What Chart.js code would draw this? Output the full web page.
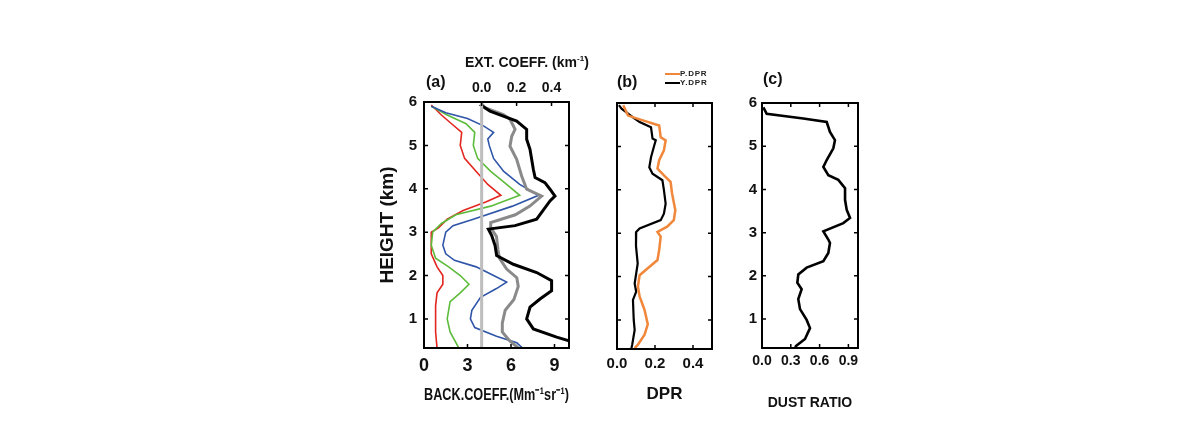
<!DOCTYPE html>
<html><head><meta charset="utf-8">
<script src="https://cdn.jsdelivr.net/npm/chart.js@4.4.1/dist/chart.umd.min.js"></script>
<style>
html,body{margin:0;padding:0;background:#fff;width:1190px;height:433px;overflow:hidden;position:relative;font-family:'Liberation Sans',Arial,sans-serif;}
canvas{position:absolute;}
.t{position:absolute;font-weight:bold;color:#111;white-space:nowrap;line-height:1;}
.lg{position:absolute;font-weight:bold;color:#222;white-space:nowrap;line-height:1;font-size:8px;letter-spacing:0.8px;}
.lg span{display:inline-block;width:15px;height:2px;vertical-align:middle;margin-right:0;}
</style></head><body>
<canvas id="ca" width="230" height="380" style="left:360px;top:40px"></canvas>
<canvas id="cb" width="140" height="380" style="left:590px;top:40px"></canvas>
<canvas id="cc" width="150" height="380" style="left:720px;top:40px"></canvas>
<div class="t" style="left:426px;top:74px;font-size:16px">(a)</div>
<div class="t" style="left:465px;top:55px;font-size:14px">EXT. COEFF. (km<sup style="font-size:8px">-1</sup>)</div>
<div class="t" style="left:617px;top:74px;font-size:16px">(b)</div>
<div class="t" style="left:763px;top:71px;font-size:16px">(c)</div>
<div class="lg" style="left:665px;top:70px"><span style="background:#f0873a"></span>P.DPR</div>
<div class="lg" style="left:665px;top:79px"><span style="background:#000"></span>Y.DPR</div>
<script>
// ---------- DATA ----------
const heightTicks = [1, 2, 3, 4, 5, 6];
const backTicks = [0, 3, 6, 9];
const extTicks = [0.0, 0.2, 0.4];
const dprTicks = [0.0, 0.2, 0.4];
const dustTicks = [0.0, 0.3, 0.6, 0.9];

// panel (a): backscatter profiles (Mm-1 sr-1) vs height (km)
const redH = [5.93, 5.7, 5.47, 5.3, 5.0, 4.7, 4.4, 4.1, 3.85, 3.7, 3.5, 3.3, 3.1, 3.0, 2.5, 2.2, 2.0, 1.8, 1.6, 1.3, 1.0, 0.7, 0.33];
const redV = [0.5, 1.2, 2.0, 2.6, 2.5, 2.8, 3.6, 4.4, 5.3, 4.3, 2.7, 1.6, 1.0, 0.5, 0.5, 0.9, 1.3, 1.3, 0.9, 0.8, 0.8, 0.8, 0.9];
const greenH = [5.9, 5.7, 5.5, 5.3, 5.0, 4.7, 4.4, 4.1, 3.85, 3.6, 3.4, 3.2, 3.0, 2.7, 2.4, 2.2, 2.0, 1.8, 1.6, 1.4, 1.0, 0.7, 0.33];
const greenV = [0.5, 1.6, 2.9, 3.5, 3.4, 3.7, 4.6, 5.7, 6.6, 4.6, 2.2, 1.2, 0.6, 0.5, 0.8, 1.7, 2.5, 3.1, 2.5, 1.8, 1.6, 1.8, 2.4];
const blueH = [5.9, 5.75, 5.62, 5.45, 5.3, 5.15, 5.0, 4.7, 4.4, 4.1, 3.85, 3.6, 3.3, 3.15, 3.0, 2.7, 2.5, 2.35, 2.2, 2.0, 1.85, 1.7, 1.5, 1.2, 1.0, 0.8, 0.6, 0.45, 0.33];
const blueV = [0.5, 1.5, 3.0, 4.1, 4.8, 4.4, 4.5, 4.8, 5.5, 6.6, 7.9, 6.1, 3.4, 2.0, 1.5, 1.3, 1.5, 2.1, 3.6, 4.8, 5.7, 5.0, 3.9, 3.3, 3.2, 3.5, 5.0, 6.4, 6.8];
const grayH = [5.95, 5.87, 5.71, 5.6, 5.37, 5.21, 4.98, 4.68, 4.29, 3.99, 3.83, 3.6, 3.4, 3.22, 3.1, 2.9, 2.6, 2.4, 2.15, 1.95, 1.75, 1.45, 1.2, 0.9, 0.7, 0.5, 0.33];
const grayV = [4.0, 4.2, 5.47, 5.93, 6.28, 6.05, 5.93, 6.39, 6.74, 7.08, 8.11, 7.3, 6.3, 4.6, 4.6, 5.0, 5.1, 5.2, 5.7, 6.4, 6.5, 6.2, 5.6, 5.4, 5.4, 5.9, 6.5];
const blackH = [5.94, 5.79, 5.56, 5.37, 5.14, 4.91, 4.45, 4.26, 4.14, 3.99, 3.83, 3.72, 3.3, 3.15, 3.07, 2.92, 2.69, 2.46, 2.26, 2.07, 1.88, 1.65, 1.46, 1.27, 1.0, 0.77, 0.58, 0.5, 0.4];
const blackV = [3.86, 4.55, 6.39, 7.08, 7.08, 7.31, 7.54, 7.66, 8.34, 8.69, 9.03, 8.69, 7.77, 6.28, 4.44, 4.67, 4.9, 5.01, 6.16, 7.77, 8.8, 8.8, 8.0, 7.31, 7.08, 7.54, 9.15, 9.95, 10.5];
const extZeroH = [0.33, 6.0];
const extZeroV = [0.0, 0.0];

// panel (b): depolarization ratio
const pdprH = [5.95, 5.71, 5.6, 5.48, 5.21, 5.14, 4.91, 4.68, 4.49, 4.33, 4.18, 3.91, 3.53, 3.3, 3.15, 3.03, 2.92, 2.61, 2.38, 2.19, 2.03, 1.77, 1.54, 1.23, 0.9, 0.66, 0.43, 0.35];
const pdprV = [0.033, 0.058, 0.136, 0.222, 0.23, 0.256, 0.247, 0.222, 0.213, 0.247, 0.282, 0.29, 0.307, 0.299, 0.264, 0.213, 0.23, 0.222, 0.213, 0.162, 0.119, 0.11, 0.119, 0.145, 0.162, 0.145, 0.11, 0.093];
const ydprH = [5.95, 5.87, 5.67, 5.56, 5.44, 5.18, 5.14, 5.02, 4.75, 4.52, 4.37, 4.22, 3.99, 3.68, 3.45, 3.3, 3.11, 3.03, 2.7, 2.3, 1.84, 1.65, 1.46, 1.0, 0.77, 0.43, 0.35];
const ydprV = [0.01, 0.024, 0.084, 0.119, 0.179, 0.187, 0.204, 0.196, 0.179, 0.17, 0.187, 0.239, 0.247, 0.256, 0.247, 0.23, 0.119, 0.101, 0.1, 0.109, 0.093, 0.101, 0.084, 0.088, 0.093, 0.08, 0.076];

// panel (c): dust ratio
const dustH = [5.9, 5.75, 5.64, 5.56, 5.33, 5.14, 4.95, 4.68, 4.52, 4.33, 4.22, 4.03, 3.76, 3.53, 3.34, 3.22, 3.03, 2.84, 2.76, 2.53, 2.34, 2.19, 2.03, 1.84, 1.69, 1.46, 1.23, 0.98, 0.79, 0.54, 0.39, 0.35];
const dustV = [0.014, 0.049, 0.43, 0.674, 0.708, 0.76, 0.743, 0.674, 0.639, 0.691, 0.795, 0.865, 0.865, 0.882, 0.917, 0.847, 0.639, 0.691, 0.708, 0.691, 0.639, 0.465, 0.378, 0.368, 0.413, 0.378, 0.396, 0.465, 0.5, 0.448, 0.361, 0.344];

// ---------- HELPERS ----------
const pts = (v, h) => v.map((x, i) => ({x: x, y: h[i]}));
const FONT = "'Liberation Sans Narrow','Liberation Sans',Arial,sans-serif";
const tickFont = (s) => ({family: FONT, size: s, weight: 'bold'});
const setTicks = (arr) => (s) => { s.ticks = arr.map(v => ({value: v})); };
const line = (data, color, width, axis) => ({
  data, borderColor: color, backgroundColor: color, borderWidth: width,
  showLine: true, pointRadius: 0, tension: 0, xAxisID: axis || 'x'
});

const framePlugin = {
  id: 'frame',
  afterDatasetsDraw(chart) {
    const {ctx, chartArea: a, scales} = chart;
    ctx.save();
    ctx.strokeStyle = '#000';
    ctx.lineWidth = 2;
    ctx.strokeRect(a.left, a.top, a.right - a.left, a.bottom - a.top);
    ctx.lineWidth = 1.5;
    const L = 4;
    ctx.beginPath();
    scales.x.ticks.forEach(t => {
      const p = scales.x.getPixelForValue(t.value);
      ctx.moveTo(p, a.bottom); ctx.lineTo(p, a.bottom - L);
      if (!scales.x2) { ctx.moveTo(p, a.top); ctx.lineTo(p, a.top + L); }
    });
    if (scales.x2) scales.x2.ticks.forEach(t => {
      const p = scales.x2.getPixelForValue(t.value);
      ctx.moveTo(p, a.top); ctx.lineTo(p, a.top + L);
    });
    scales.y.ticks.forEach(t => {
      const p = scales.y.getPixelForValue(t.value);
      ctx.moveTo(a.left, p); ctx.lineTo(a.left + L, p);
      ctx.moveTo(a.right, p); ctx.lineTo(a.right - L, p);
    });
    ctx.stroke();
    ctx.restore();
  }
};

const baseOpts = {
  responsive: false, animation: false, devicePixelRatio: 1,
  plugins: {legend: {display: false}, tooltip: {enabled: false}},
};

const yAxis = (width, showLabels, pad, title) => ({
  type: 'linear', position: 'left', min: 0.33, max: 6,
  afterBuildTicks: setTicks(heightTicks),
  afterFit: s => { s.width = width; },
  grid: {display: false, drawTicks: false}, border: {display: false},
  ticks: {display: showLabels, padding: pad, color: '#111', font: tickFont(15), callback: v => String(v)},
  title: title ? {display: true, text: title, color: '#111', font: {family: FONT, size: 19, weight: 'bold'}, padding: {top: 16, bottom: 0}} : {display: false}
});

const xAxis = (min, max, ticks, height, fsize, pad, title, tpad, tsize, fmt) => ({
  type: 'linear', position: 'bottom', min, max,
  afterBuildTicks: setTicks(ticks),
  afterFit: s => { s.height = height; },
  grid: {display: false, drawTicks: false}, border: {display: false},
  ticks: {padding: pad, color: '#111', font: tickFont(fsize), maxRotation: 0, autoSkip: false, callback: fmt},
  title: {display: true, text: title, color: '#111', font: {family: "'Liberation Sans',Arial,sans-serif", size: tsize, weight: 'bold'}, padding: {top: 0, bottom: tpad}}
});

// ---------- PANEL (a) ----------
new Chart(document.getElementById('ca'), {
  type: 'scatter',
  data: {datasets: [
    line(pts(extZeroV, extZeroH), '#bdbdbd', 3, 'x2'),
    line(pts(blackV, blackH), '#000000', 3),
    line(pts(grayV, grayH), '#8a8a8a', 3),
    line(pts(blueV, blueH), '#2f55a8', 1.6),
    line(pts(greenV, greenH), '#5dbb3c', 1.6),
    line(pts(redV, redH), '#e3261f', 1.6)
  ]},
  options: Object.assign({}, baseOpts, {
    layout: {padding: {left: 0, right: 21, top: 0, bottom: 0}},
    scales: {
      x: xAxis(0, 10, backTicks, 72, 18, 7, 'BACK.COEFF.(Mm⁻¹sr⁻¹)', 14, 17, v => String(v)),
      x2: {
        type: 'linear', position: 'top', min: -0.33, max: 0.5,
        afterBuildTicks: setTicks(extTicks),
        afterFit: s => { s.height = 62; },
        grid: {display: false, drawTicks: false}, border: {display: false},
        ticks: {padding: 5, color: '#111', font: tickFont(14), maxRotation: 0, autoSkip: false, callback: v => v.toFixed(1)}
      },
      y: yAxis(64, true, 7, 'HEIGHT (km)')
    }
  }),
  plugins: [framePlugin]
});

// ---------- PANEL (b) ----------
new Chart(document.getElementById('cb'), {
  type: 'scatter',
  data: {datasets: [
    line(pts(pdprV, pdprH), '#f0873a', 2.5),
    line(pts(ydprV, ydprH), '#000000', 2.2)
  ]},
  options: Object.assign({}, baseOpts, {
    layout: {padding: {left: 0, right: 18, top: 63, bottom: 0}},
    scales: {
      x: xAxis(0, 0.5, dprTicks, 71, 15, 6, 'DPR', 15, 17, v => v.toFixed(1)),
      y: yAxis(27, false, 5, null)
    }
  }),
  plugins: [framePlugin]
});

// ---------- PANEL (c) ----------
new Chart(document.getElementById('cc'), {
  type: 'scatter',
  data: {datasets: [
    line(pts(dustV, dustH), '#000000', 2.6)
  ]},
  options: Object.assign({}, baseOpts, {
    layout: {padding: {left: 0, right: 12, top: 63, bottom: 0}},
    scales: {
      x: xAxis(0, 1.0, dustTicks, 72, 14, 5, 'DUST RATIO', 8, 14, v => v.toFixed(1)),
      y: yAxis(42, true, 5, null)
    }
  }),
  plugins: [framePlugin]
});
</script>
</body></html>
